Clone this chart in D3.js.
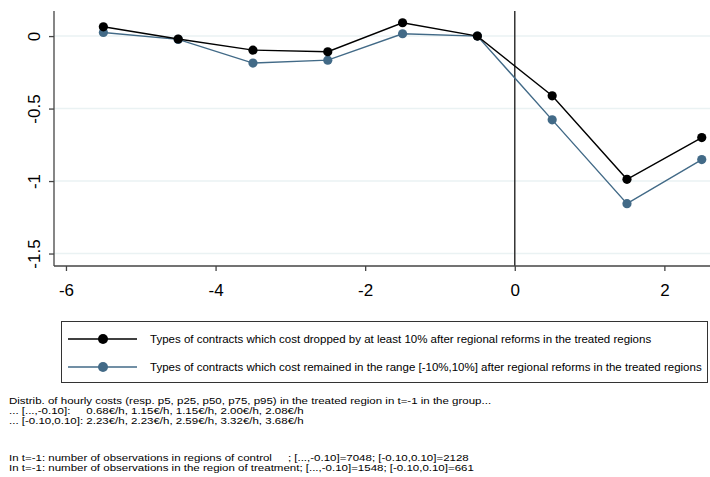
<!DOCTYPE html>
<html>
<head>
<meta charset="utf-8">
<script src="https://cdn.jsdelivr.net/npm/d3@7.8.5/dist/d3.min.js"></script>
<style>
  body { margin: 0; background: #fff; }
  svg { font-family: "Liberation Sans", Arial, sans-serif; }
</style>
</head>
<body>
<div id="chart"></div>
<script>
// periods relative to the reform
const periods = [-5.5, -4.5, -3.5, -2.5, -1.5, -0.5, 0.5, 1.5, 2.5];
const droppedValues = [0.064, -0.02, -0.097, -0.108, 0.092, 0, -0.412, -0.988, -0.70];
const stableValues = [0.025, -0.023, -0.186, -0.166, 0.016, 0, -0.578, -1.156, -0.852];
const xTicks = [-6, -4, -2, 0, 2];
const yTicks = [0, -0.5, -1, -1.5];
const seriesLabels = [
  "Types of contracts which cost dropped by at least 10% after regional reforms in the treated regions",
  "Types of contracts which cost remained in the range [-10%,10%] after regional reforms in the treated regions",
];
const costNotes = [
  "Distrib. of hourly costs (resp. p5, p25, p50, p75, p95) in the treated region in t=-1 in the group...",
  "... [...,-0.10]:     0.68€/h, 1.15€/h, 1.15€/h, 2.00€/h, 2.08€/h",
  "... [-0.10,0.10]: 2.23€/h, 2.23€/h, 2.59€/h, 3.32€/h, 3.68€/h",
];
const countNotes = [
  "In t=-1: number of observations in regions of control     ; [...,-0.10]=7048; [-0.10,0.10]=2128",
  "In t=-1: number of observations in the region of treatment; [...,-0.10]=1548; [-0.10,0.10]=661",
];
const colors = ["#000000", "#426a87"];

const width = 710, height = 477;
const margin = { top: 11, right: 0, bottom: 211, left: 54 };

const svg = d3.select("#chart").append("svg")
  .attr("width", width)
  .attr("height", height);

const x = d3.scaleLinear()
  .domain([-6.16, 2.61])
  .range([margin.left, width - margin.right]);

const y = d3.scaleLinear()
  .domain([-1.586, 0.173])
  .range([height - margin.bottom, margin.top]);

// gridlines
svg.append("g")
  .selectAll("line")
  .data(yTicks)
  .join("line")
  .attr("x1", margin.left)
  .attr("x2", width)
  .attr("y1", d => y(d))
  .attr("y2", d => y(d))
  .attr("stroke", "#eaf2f3")
  .attr("stroke-width", 1.5);

// reform line at 0
svg.append("line")
  .attr("x1", x(0)).attr("x2", x(0))
  .attr("y1", margin.top).attr("y2", y.range()[0])
  .attr("stroke", "#333")
  .attr("stroke-width", 1.5);

// axes
const xAxis = svg.append("g")
  .attr("transform", `translate(0,${height - margin.bottom})`)
  .call(d3.axisBottom(x).tickValues(xTicks).tickSize(5).tickPadding(13).tickFormat(d => String(d)));

const yAxis = svg.append("g")
  .attr("transform", `translate(${margin.left},0)`)
  .call(d3.axisLeft(y).tickValues(yTicks).tickSize(5).tickFormat(d => String(d)));

[xAxis, yAxis].forEach(g => {
  g.select(".domain").attr("stroke", "#444").attr("stroke-width", 1.3);
  g.selectAll(".tick line").attr("stroke", "#444").attr("stroke-width", 1.3);
  g.selectAll(".tick text")
    .style("font-size", "17px")
    .style("font-family", "Liberation Sans, Arial, sans-serif")
    .attr("fill", "#000");
});

xAxis.select(".domain").attr("d", `M${margin.left},0H${width}`);
yAxis.select(".domain").attr("d", `M0,${margin.top}V${height - margin.bottom}`);

yAxis.selectAll(".tick text")
  .attr("x", null)
  .attr("dy", null)
  .attr("text-anchor", "middle")
  .attr("transform", "translate(-14,0) rotate(-90)");

// series
const series = [droppedValues, stableValues];
const line = d3.line().x(d => x(d[0])).y(d => y(d[1]));

series.slice().reverse().forEach((vals, ri) => {
  const i = series.length - 1 - ri;
  const pts = periods.map((p, k) => [p, vals[k]]);
  svg.append("path")
    .datum(pts)
    .attr("fill", "none")
    .attr("stroke", colors[i])
    .attr("stroke-width", 1.4)
    .attr("d", line);
  svg.append("g")
    .selectAll("circle")
    .data(pts)
    .join("circle")
    .attr("cx", d => x(d[0]))
    .attr("cy", d => y(d[1]))
    .attr("r", 4.6)
    .attr("fill", colors[i]);
});

// legend
const legend = svg.append("g");
legend.append("rect")
  .attr("x", 61.5).attr("y", 321.5)
  .attr("width", 646).attr("height", 61)
  .attr("fill", "#fff")
  .attr("stroke", "#333")
  .attr("stroke-width", 1);

seriesLabels.forEach((label, i) => {
  const cy = 339 + i * 28;
  legend.append("line")
    .attr("x1", 68).attr("x2", 137)
    .attr("y1", cy).attr("y2", cy)
    .attr("stroke", colors[i])
    .attr("stroke-width", 1.6);
  legend.append("circle")
    .attr("cx", 103).attr("cy", cy).attr("r", 5)
    .attr("fill", colors[i]);
  legend.append("text")
    .attr("x", 150).attr("y", cy + 4)
    .style("font-size", "11.5px")
    .text(label);
});

// notes: small type, stretched horizontally to the reference width
function noteBlock(lines, top) {
  svg.append("g")
    .selectAll("text")
    .data(lines)
    .join("text")
    .attr("transform", (d, i) => `translate(9,${top + i * 10}) scale(1.37,1)`)
    .attr("xml:space", "preserve")
    .style("white-space", "pre")
    .style("font-size", "8.4px")
    .text(d => d);
}
noteBlock(costNotes, 404);
noteBlock(countNotes, 461);
</script>
</body>
</html>
